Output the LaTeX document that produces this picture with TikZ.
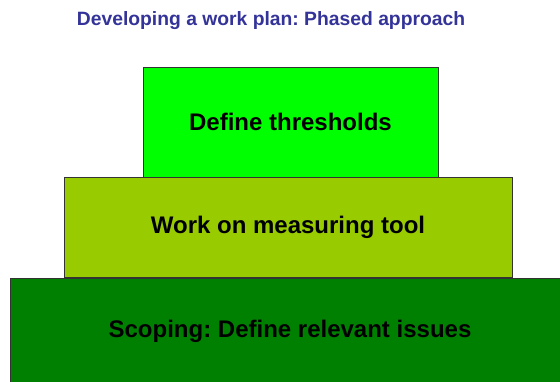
\documentclass[tikz,border=0pt]{standalone}
\usepackage{fontspec}
\setmainfont{Liberation Sans}
\usepackage{tikz}
\frenchspacing
\definecolor{titleblue}{rgb}{0.2, 0.2, 0.6}
\definecolor{brightgreen}{rgb}{0, 1, 0}
\definecolor{olivegreen}{rgb}{0.6, 0.8, 0}
\definecolor{darkgreen}{rgb}{0, 0.5, 0}
\tikzset{tier/.style={draw=black!80, line width=0.7pt, inner sep=0pt, font=\fontsize{24}{28}\selectfont\bfseries}}

\begin{document}
\begin{tikzpicture}[x=1pt, y=1pt]
\useasboundingbox (0, 0) rectangle (560, 382);
\node[font=\fontsize{19.3}{22}\selectfont\bfseries, text=titleblue] (title) at (271, 361) {Developing a work plan: Phased approach};
\node[tier, fill=darkgreen, minimum width=560pt, minimum height=106pt] (scoping) at (290, 51) {Scoping: Define relevant issues};
\node[tier, fill=olivegreen, minimum width=448pt, minimum height=100pt] (tool) at (288, 155) {Work on measuring tool};
\node[tier, fill=brightgreen, minimum width=295pt, minimum height=110pt] (thresholds) at (290.5, 260) {Define thresholds};
\end{tikzpicture}
\end{document}
